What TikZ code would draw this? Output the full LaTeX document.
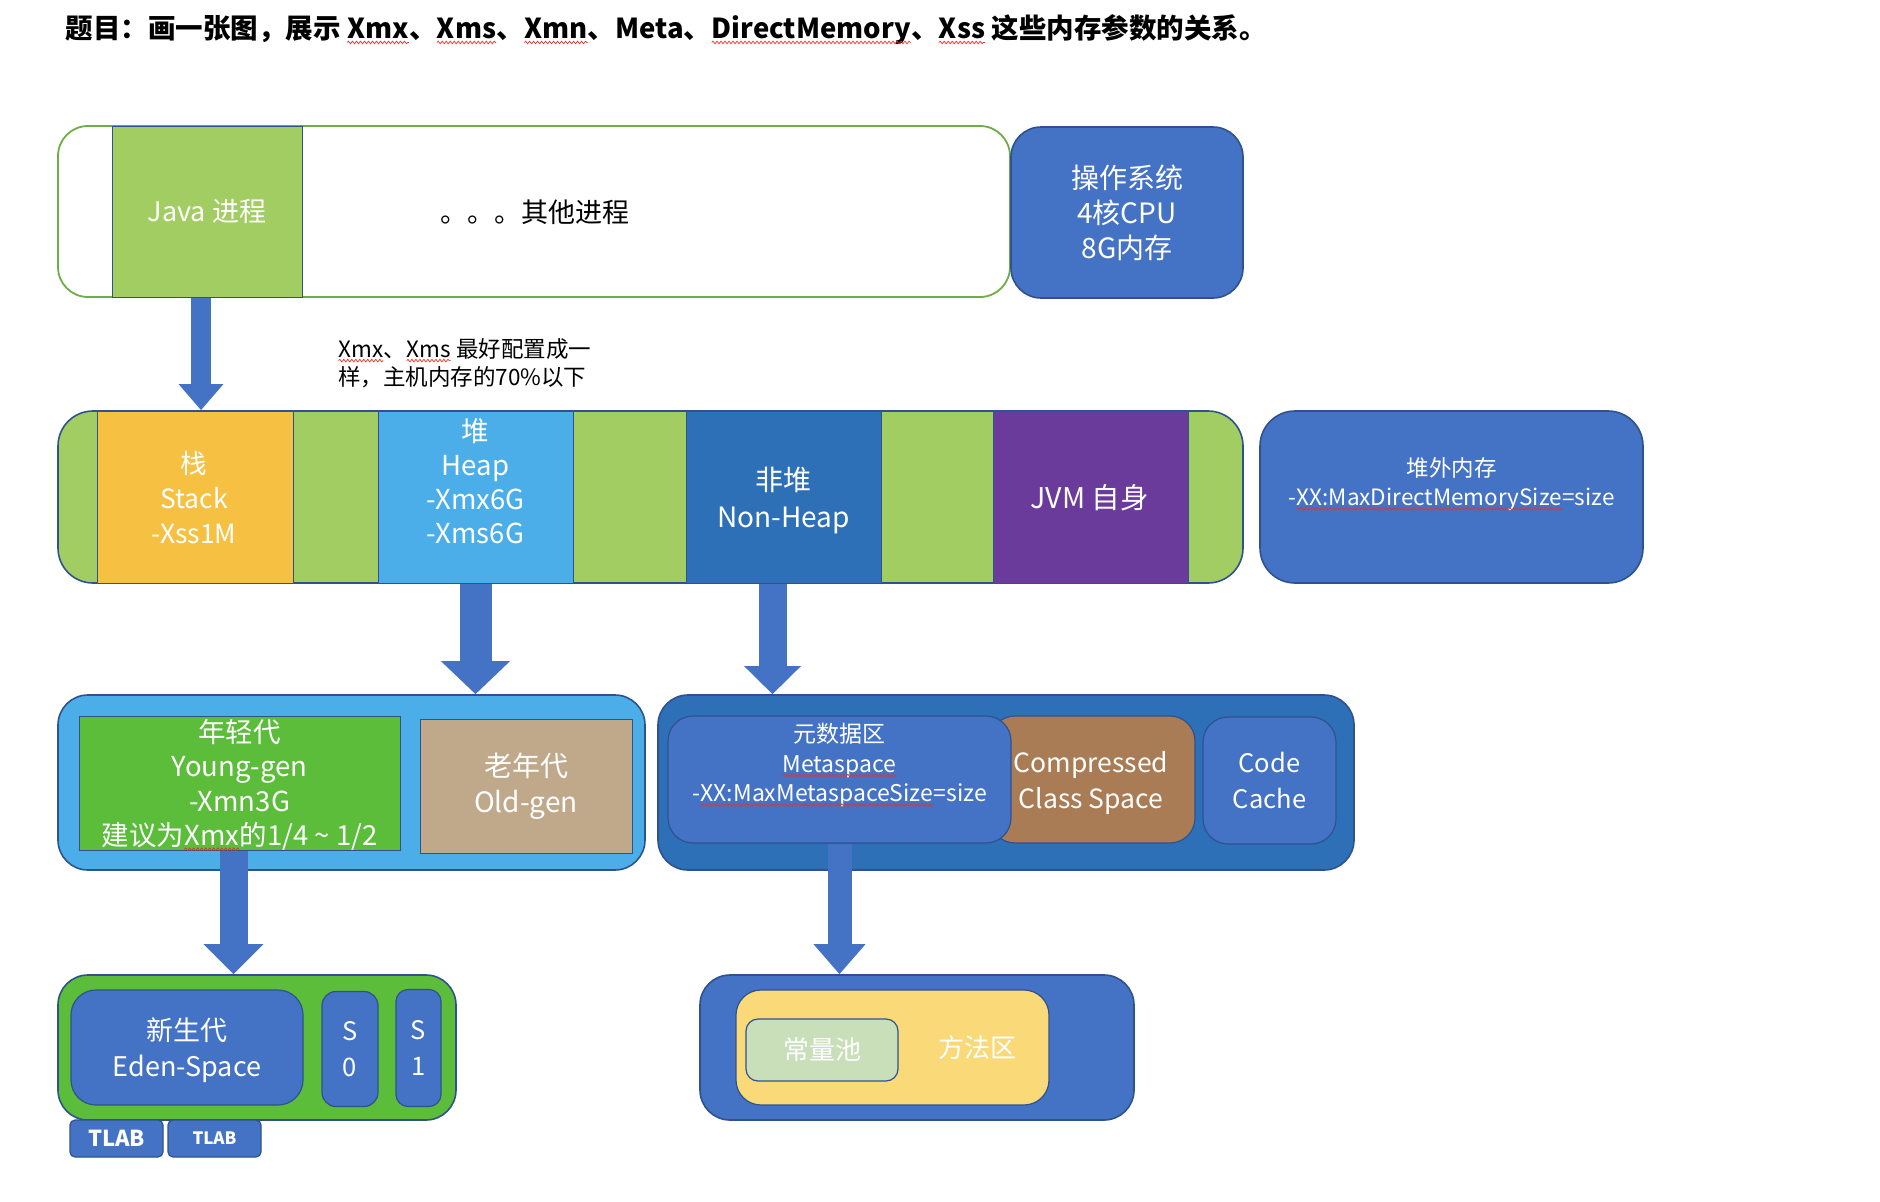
\documentclass[tikz,border=0pt]{standalone}
\usepackage{fontspec}
\setmainfont{Noto Sans CJK SC}
\usetikzlibrary{arrows.meta,decorations.pathmorphing}

\definecolor{lgreen}{HTML}{A2CD63}
\definecolor{ggreen}{HTML}{70AD47}
\definecolor{dgreen}{HTML}{5BBD3A}
\definecolor{obox}{HTML}{4472C4}
\definecolor{oedge}{HTML}{2F528F}
\definecolor{orng}{HTML}{F6C142}
\definecolor{skyb}{HTML}{4BAEE8}
\definecolor{midb}{HTML}{2E70B8}
\definecolor{purp}{HTML}{6A3B9B}
\definecolor{tan}{HTML}{BFA98A}
\definecolor{brwn}{HTML}{A97C56}
\definecolor{ylw}{HTML}{F9D978}
\definecolor{pale}{HTML}{C9DFB9}
\definecolor{squig}{HTML}{E8332A}

% red wavy underline for flagged words
\newcommand\wv[1]{\tikz[baseline=(wvw.base),x=1pt,y=1pt]{%
  \node[inner sep=0pt,outer sep=0pt,anchor=base] (wvw) {#1};
  \draw[squig, line width=0.7pt, decorate, decoration={snake, amplitude=1.3pt, segment length=4pt}]
    ([yshift=-3.5pt]wvw.base west) -- ([yshift=-3.5pt]wvw.base east);}}

\tikzset{
  panel/.style={draw=oedge, line width=1.6pt, rounded corners=#1, inner sep=0pt},
  panel/.default=30pt,
  cell/.style={draw=oedge, line width=1pt, inner sep=0pt},
  wtext/.style={text=white, align=center, font=\fontsize{25}{35}\selectfont},
  blockarrow/.style={draw=obox, fill=obox}
}

\begin{document}
\begin{tikzpicture}[x=1pt,y=-1pt]
\useasboundingbox[fill=white] (0,0) rectangle (1880,1202);

% heading
\node[anchor=west, font=\bfseries\fontsize{27.5}{32}\selectfont] (title) at (62,30)
  {题目：画一张图，展示 \wv{Xmx}、\wv{Xms}、\wv{Xmn}、Meta、\wv{DirectMemory}、\wv{Xss} 这些内存参数的关系。};

% ---- processes on the host ----
\node[panel, draw=ggreen, line width=1.8pt, fill=white, minimum width=952pt, minimum height=171pt] (procs) at (534,211.5) {};
\node[cell, fill=lgreen, minimum width=190pt, minimum height=171pt, wtext, font=\fontsize{27}{32}\selectfont] (java) at (207,211.5) {Java 进程};
\node[font=\fontsize{27}{30}\selectfont] (others) at (535,212) {。。。其他进程};
\node[panel, fill=obox, minimum width=232pt, minimum height=171pt, wtext, font=\fontsize{28}{35}\selectfont] (os) at (1127,212.5) {操作系统\\4核CPU\\8G内存};

\node[anchor=north west, align=left, font=\fontsize{22.5}{28}\selectfont, inner sep=0pt] (note) at (338,338)
  {\wv{Xmx}、\wv{Xms} 最好配置成一\\样，主机内存的70\%以下};

% ---- JVM memory strip ----
\node[panel=35pt, fill=lgreen, minimum width=1185pt, minimum height=172pt] (jvm) at (650.5,497) {};
\node[cell, fill=orng, minimum width=196pt, minimum height=172pt] (stack) at (195,497) {};
\node[wtext, font=\fontsize{26.5}{35}\selectfont] at (194,498) {栈\\Stack\\-Xss1M};
\node[cell, fill=skyb, minimum width=195pt, minimum height=172pt] (heap) at (475.5,497) {};
\node[wtext, font=\fontsize{27.5}{34}\selectfont] at (475.5,481) {堆\\Heap\\-Xmx6G\\-Xms6G};
\node[cell, fill=midb, minimum width=195pt, minimum height=172pt] (nonheap) at (783.5,497) {};
\node[wtext, font=\fontsize{28}{37}\selectfont] at (783.5,500) {非堆\\Non-Heap};
\node[cell, fill=purp, minimum width=195pt, minimum height=172pt] (jvmself) at (1090.5,497) {};
\node[wtext, font=\fontsize{28.5}{30}\selectfont] at (1089.5,498) {JVM 自身};
\node[panel=35pt, fill=obox, minimum width=383pt, minimum height=172pt] (direct) at (1451.5,497) {};
\node[wtext, font=\fontsize{22.5}{29}\selectfont] at (1451.5,484) {堆外内存\\-\wv{XX:MaxDirectMemorySize}=size};

% ---- heap generations ----
\node[panel, fill=skyb, minimum width=587pt, minimum height=175pt] (heapbox) at (351.5,782.5) {};
\node[cell, fill=dgreen, minimum width=321pt, minimum height=134pt] (young) at (239.5,783) {};
\node[wtext, font=\fontsize{27.5}{34.5}\selectfont] at (239.5,785) {年轻代\\Young-gen\\-Xmn3G\\建议为\wv{Xmx}的1/4 \textasciitilde{} 1/2};
\node[cell, fill=tan, minimum width=212pt, minimum height=134pt, wtext, font=\fontsize{28}{36}\selectfont] (old) at (526,786) {老年代\\Old-gen};

% ---- non-heap areas ----
\node[panel, fill=midb, minimum width=696pt, minimum height=175pt] (nhbox) at (1006,782.5) {};
\node[panel=25pt, line width=1.2pt, fill=brwn, minimum width=205pt, minimum height=127pt] (ccs) at (1092.5,779.5) {};
\node[wtext, font=\fontsize{26.5}{36}\selectfont] at (1091,783) {Compressed\\Class Space};
\node[panel=25pt, line width=1.2pt, fill=obox, minimum width=343pt, minimum height=127pt] (meta) at (839.5,779.5) {};
\node[wtext, font=\fontsize{23}{29.5}\selectfont] at (839.5,765) {元数据区\\\wv{Metaspace}\\-\wv{XX:MaxMetaspaceSize}=size};
\node[panel=25pt, line width=1.2pt, fill=obox, minimum width=133pt, minimum height=127pt, wtext, font=\fontsize{25.5}{36}\selectfont] (code) at (1269.5,780.5) {Code\\Cache};

% ---- young generation detail ----
\node[panel, fill=dgreen, minimum width=398pt, minimum height=145pt] (ygbox) at (257,1047.5) {};
\node[panel=25pt, line width=1.2pt, fill=obox, minimum width=232pt, minimum height=115pt] (eden) at (187,1047.5) {};
\node[wtext, font=\fontsize{27}{36}\selectfont] at (187,1050) {新生代\\Eden-Space};
\node[panel=14pt, line width=1.2pt, fill=obox, minimum width=56pt, minimum height=115pt, wtext, font=\fontsize{25.5}{36}\selectfont] (s0) at (350,1049) {S\\0};
\node[panel=12pt, line width=1.2pt, fill=obox, minimum width=45pt, minimum height=117pt, wtext, font=\fontsize{25.5}{36}\selectfont] (s1) at (418.5,1048) {S\\1};
\node[panel=5pt, line width=1.2pt, fill=obox, minimum width=93pt, minimum height=37pt, wtext, font=\bfseries\fontsize{22}{26}\selectfont] (tlab1) at (116.5,1138.5) {TLAB};
\node[panel=5pt, line width=1.2pt, fill=obox, minimum width=93pt, minimum height=37pt, wtext, font=\bfseries\fontsize{17}{20}\selectfont] (tlab2) at (214.5,1138.5) {TLAB};

% ---- method area ----
\node[panel, fill=obox, minimum width=434pt, minimum height=145pt] (mabox) at (917,1047.5) {};
\node[panel=25pt, line width=1.2pt, fill=ylw, minimum width=313pt, minimum height=115pt] (method) at (892.5,1047.5) {};
\node[panel=12pt, line width=1.2pt, fill=pale, minimum width=152pt, minimum height=62pt, wtext, font=\fontsize{26}{30}\selectfont] (pool) at (822,1050) {常量池};
\node[wtext, font=\fontsize{26}{30}\selectfont] (mtext) at (977,1048) {方法区};

% ---- block arrows ----
\draw[blockarrow, line width=20pt, -{Triangle[length=26pt,width=43pt]}]
  ([xshift=-6pt]java.south) -- ([xshift=-6pt]java.south |- jvm.north);
\draw[blockarrow, line width=32pt, -{Triangle[length=33pt,width=67pt]}]
  (heap.south) -- (heap.south |- heapbox.north);
\draw[blockarrow, line width=28pt, -{Triangle[length=28pt,width=55pt]}]
  ([xshift=-11pt]nonheap.south) -- ([xshift=-11pt]nonheap.south |- nhbox.north);
\draw[blockarrow, line width=28pt, -{Triangle[length=30pt,width=58pt]}]
  ([xshift=-6pt]young.south) -- ([xshift=-6pt]young.south |- ygbox.north);
\draw[blockarrow, line width=24pt, -{Triangle[length=30pt,width=50pt]}]
  (meta.south) -- (meta.south |- mabox.north);
\end{tikzpicture}
\end{document}
